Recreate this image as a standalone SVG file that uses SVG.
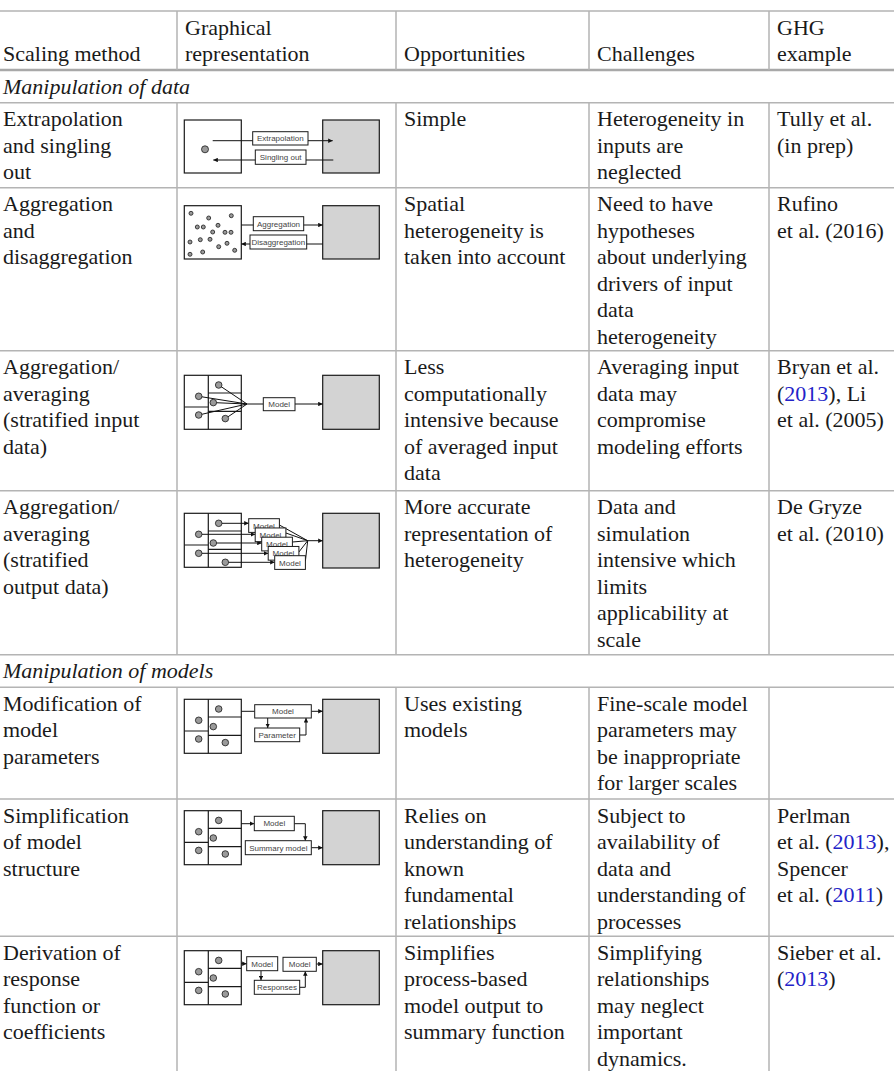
<svg xmlns="http://www.w3.org/2000/svg" xmlns:xlink="http://www.w3.org/1999/xlink" width="894" height="1071" viewBox="0 0 894 1071">
<style>
.t{font-family:"Liberation Serif","Times New Roman",serif;font-size:22px;fill:#1a1a1a}
.i{font-style:italic}
.lk{fill:#2323c8}
.g{stroke:#b4b4b4;stroke-width:1.5;fill:none}
.bx{fill:none;stroke:#1a1a1a;stroke-width:1.2}
.gy{fill:#d3d3d3;stroke:#1a1a1a;stroke-width:1.2}
.lb{fill:#fff;stroke:#1a1a1a;stroke-width:1}
.lt{font-family:"Liberation Sans",Arial,sans-serif;font-size:8px;fill:#444;text-anchor:middle}
.dt{fill:#9a9a9a;stroke:#1a1a1a;stroke-width:0.8}
.ln{stroke:#111;stroke-width:1;fill:none}
.ar{marker-end:url(#ah)}
</style>
<defs>
<marker id="ah" viewBox="0 0 6 6" refX="6" refY="3" markerWidth="4.5" markerHeight="4.5" markerUnits="userSpaceOnUse" orient="auto"><path d="M0,0L6,3L0,6z" fill="#111"/></marker>
<g id="grid"><rect class="bx" x="0" y="0" width="57" height="54"/><path class="bx" d="M24,0V54M0,31.7H24M24,17.7H57M24,36H57"/></g>
<g id="dots"><circle class="dt" cx="34.4" cy="9.7" r="3.3"/><circle class="dt" cx="14.4" cy="21" r="3.3"/><circle class="dt" cx="29" cy="27.3" r="3.3"/><circle class="dt" cx="14.4" cy="39.7" r="3.3"/><circle class="dt" cx="41" cy="43.3" r="3.3"/></g>
</defs>
<rect width="894" height="1071" fill="#fff"/>

<g id="table-grid">
<path class="g" d="M0,11H894M0,102.7H894M0,187.7H894M0,350.7H894M0,490.7H894M0,654.7H894M0,687.3H894M0,799H894M0,936.3H894"/>
<path d="M0,70H894" stroke="#a8a8a8" stroke-width="2.6" fill="none"/>
<path class="g" d="M177,11V70M396,11V70M589,11V70M769,11V70M177,102.7V654.7M396,102.7V654.7M589,102.7V654.7M769,102.7V654.7M177,687.3V1071M396,687.3V1071M589,687.3V1071M769,687.3V1071"/>
</g>

<g id="header" class="t">
<text x="3" y="61">Scaling method</text>
<text x="185" y="34.5">Graphical</text><text x="185" y="61">representation</text>
<text x="404" y="61">Opportunities</text>
<text x="597" y="61">Challenges</text>
<text x="777" y="34.5">GHG</text><text x="777" y="61">example</text>
</g>
<g id="section-data"><text class="t i" x="3" y="94">Manipulation of data</text></g>
<g id="section-models"><text class="t i" x="3" y="678">Manipulation of models</text></g>

<!-- frames -->
<g id="frames">
<rect class="bx" x="184.3" y="120" width="57" height="53"/>
<rect class="gy" x="322.7" y="120" width="56.6" height="53"/>
<rect class="bx" x="184.3" y="205.7" width="57" height="53.3"/>
<rect class="gy" x="322.7" y="205.7" width="56.6" height="53.3"/>
<use xlink:href="#grid" x="184.3" y="375.3"/>
<rect class="gy" x="322.7" y="375.3" width="56.6" height="54"/>
<use xlink:href="#grid" x="184.3" y="513.3"/>
<rect class="gy" x="322.7" y="513.3" width="56.6" height="54.7"/>
<use xlink:href="#grid" x="184.3" y="699.3"/>
<rect class="gy" x="322.7" y="699.3" width="56.6" height="54"/>
<use xlink:href="#grid" x="184.3" y="810.7"/>
<rect class="gy" x="322.7" y="810.7" width="56.6" height="54"/>
<use xlink:href="#grid" x="184.3" y="950.7"/>
<rect class="gy" x="322.7" y="950.7" width="56.6" height="54"/>
</g>

<g id="connectors">
<!-- row 1 -->
<path class="ln ar" d="M212.7,140.7H332.7"/>
<path class="ln ar" d="M333.3,160H213.3"/>
<!-- row 2 -->
<path class="ln ar" d="M241.3,225H322.7"/>
<path class="ln ar" d="M322.7,244H241.3"/>
<!-- row 3 -->
<path class="ln" d="M218.7,385L247,404M198.7,396.3L247,404M213.3,402.6L247,404M198.7,415L247,404M225.3,418.6L247,404M247,404H263.3"/>
<path class="ln ar" d="M295,404H322.7"/>
<!-- row 4 -->
<path class="ln ar" d="M218.7,523.3H248.7"/>
<path class="ln ar" d="M198.7,534.3H255.2"/>
<path class="ln ar" d="M213.3,543H261.7"/>
<path class="ln ar" d="M198.7,553.3H268.2"/>
<path class="ln ar" d="M225.3,562.3H274.7"/>
<path class="ln" d="M279.4,525L307.7,540.7M285.9,533L307.7,540.7M292.4,542L307.7,540.7M298.9,552L307.7,540.7M305.4,561L307.7,540.7"/>
<path class="ln ar" d="M307.7,540.7H322.7"/>
<!-- row 5 -->
<path class="ln" d="M241.3,711.3H254.7"/>
<path class="ln ar" d="M311.3,711.3H322.7"/>
<path class="ln ar" d="M267.7,718V728"/>
<path class="ln ar" d="M299.7,735H306V718"/>
<!-- row 6 -->
<path class="ln ar" d="M241.3,823.7H254.3"/>
<path class="ln ar" d="M294.3,823.7H305.3V840.7"/>
<path class="ln ar" d="M311.3,847.7H322.7"/>
<!-- row 7 -->
<path class="ln ar" d="M241.3,963.7H246.7"/>
<path class="ln ar" d="M261,970.7V980.3"/>
<path class="ln ar" d="M299.7,987.3H305.3V971.3"/>
<path class="ln ar" d="M316.3,964H322.7"/>
</g>

<g id="row1">
<circle class="dt" cx="205" cy="149.3" r="3.5"/>
<rect class="lb" x="252.7" y="131.7" width="55.3" height="13.3"/><text class="lt" x="280.3" y="141.3">Extrapolation</text>
<rect class="lb" x="255.3" y="150" width="50.7" height="14.3"/><text class="lt" x="280.7" y="160">Singling out</text>
<g class="t"><text x="3" y="126.2">Extrapolation</text><text x="3" y="152.7">and singling</text><text x="3" y="179.2">out</text>
<text x="404" y="126.2">Simple</text>
<text x="597" y="126.2">Heterogeneity in</text><text x="597" y="152.7">inputs are</text><text x="597" y="179.2">neglected</text>
<text x="777" y="126.2">Tully et al.</text><text x="777" y="152.7">(in prep)</text></g>
</g>

<g id="row2">
<g class="dt">
<circle cx="191" cy="213.3" r="2"/><circle cx="208.7" cy="218" r="2"/><circle cx="231.3" cy="215.7" r="2"/>
<circle cx="197.3" cy="227" r="2"/><circle cx="203.3" cy="227" r="2"/><circle cx="218" cy="225.3" r="2"/>
<circle cx="212.7" cy="232" r="2"/><circle cx="225" cy="232.3" r="2"/><circle cx="231" cy="232.3" r="2"/>
<circle cx="190" cy="242" r="2"/><circle cx="200.3" cy="239.7" r="2"/><circle cx="210" cy="239.3" r="2"/>
<circle cx="227" cy="243.3" r="2"/><circle cx="218.7" cy="246.7" r="2"/>
<circle cx="190" cy="254.3" r="2"/><circle cx="202.7" cy="252" r="2"/><circle cx="234.7" cy="250.3" r="2"/>
</g>
<rect class="lb" x="253.3" y="216.7" width="50.4" height="14"/><text class="lt" x="278.5" y="226.7">Aggregation</text>
<rect class="lb" x="250" y="235" width="56.7" height="14"/><text class="lt" x="278.3" y="245">Disaggregation</text>
<g class="t"><text x="3" y="211.2">Aggregation</text><text x="3" y="237.7">and</text><text x="3" y="264.2">disaggregation</text>
<text x="404" y="211.2">Spatial</text><text x="404" y="237.7">heterogeneity is</text><text x="404" y="264.2">taken into account</text>
<text x="597" y="211.2">Need to have</text><text x="597" y="237.7">hypotheses</text><text x="597" y="264.2">about underlying</text><text x="597" y="290.7">drivers of input</text><text x="597" y="317.2">data</text><text x="597" y="343.7">heterogeneity</text>
<text x="777" y="211.2">Rufino</text><text x="777" y="237.7">et al. (2016)</text></g>
</g>

<g id="row3">
<use xlink:href="#dots" x="184.3" y="375.3"/>
<rect class="lb" x="263.3" y="397.7" width="31.7" height="13"/><text class="lt" x="279.2" y="407">Model</text>
<g class="t"><text x="3" y="374.2">Aggregation/</text><text x="3" y="400.7">averaging</text><text x="3" y="427.2">(stratified input</text><text x="3" y="453.7">data)</text>
<text x="404" y="374.2">Less</text><text x="404" y="400.7">computationally</text><text x="404" y="427.2">intensive because</text><text x="404" y="453.7">of averaged input</text><text x="404" y="480.2">data</text>
<text x="597" y="374.2">Averaging input</text><text x="597" y="400.7">data may</text><text x="597" y="427.2">compromise</text><text x="597" y="453.7">modeling efforts</text>
<text x="777" y="374.2">Bryan et al.</text><text x="777" y="400.7">(<tspan class="lk">2013</tspan>), Li</text><text x="777" y="427.2">et al. (2005)</text></g>
</g>

<g id="row4">
<g class="dt"><circle cx="218.7" cy="523.3" r="3.3"/><circle cx="198.7" cy="534.3" r="3.3"/><circle cx="213.3" cy="543" r="3.3"/><circle cx="198.7" cy="553.3" r="3.3"/><circle cx="225.3" cy="562.3" r="3.3"/></g>
<rect class="lb" x="248.7" y="518.7" width="30.7" height="13.7"/><text class="lt" x="264" y="528.5">Model</text>
<rect class="lb" x="255.2" y="527.95" width="30.7" height="13.7"/><text class="lt" x="270.5" y="537.7">Model</text>
<rect class="lb" x="261.7" y="537.2" width="30.7" height="13.7"/><text class="lt" x="277" y="547">Model</text>
<rect class="lb" x="268.2" y="546.45" width="30.7" height="13.7"/><text class="lt" x="283.5" y="556.2">Model</text>
<rect class="lb" x="274.7" y="555.7" width="30.7" height="13.7"/><text class="lt" x="290" y="565.5">Model</text>
<g class="t"><text x="3" y="514.2">Aggregation/</text><text x="3" y="540.7">averaging</text><text x="3" y="567.2">(stratified</text><text x="3" y="593.7">output data)</text>
<text x="404" y="514.2">More accurate</text><text x="404" y="540.7">representation of</text><text x="404" y="567.2">heterogeneity</text>
<text x="597" y="514.2">Data and</text><text x="597" y="540.7">simulation</text><text x="597" y="567.2">intensive which</text><text x="597" y="593.7">limits</text><text x="597" y="620.2">applicability at</text><text x="597" y="646.7">scale</text>
<text x="777" y="514.2">De Gryze</text><text x="777" y="540.7">et al. (2010)</text></g>
</g>

<g id="row5">
<use xlink:href="#dots" x="184.3" y="699.3"/>
<rect class="lb" x="254.7" y="704.7" width="56.6" height="13.3"/><text class="lt" x="283" y="714.2">Model</text>
<rect class="lb" x="254.7" y="728" width="45" height="13.7"/><text class="lt" x="277.2" y="737.8">Parameter</text>
<g class="t"><text x="3" y="710.8">Modification of</text><text x="3" y="737.3">model</text><text x="3" y="763.8">parameters</text>
<text x="404" y="710.8">Uses existing</text><text x="404" y="737.3">models</text>
<text x="597" y="710.8">Fine-scale model</text><text x="597" y="737.3">parameters may</text><text x="597" y="763.8">be inappropriate</text><text x="597" y="790.3">for larger scales</text></g>
</g>

<g id="row6">
<use xlink:href="#dots" x="184.3" y="810.7"/>
<rect class="lb" x="254.3" y="816.3" width="40" height="14.4"/><text class="lt" x="274.3" y="826.3">Model</text>
<rect class="lb" x="245.3" y="840.7" width="66" height="14"/><text class="lt" x="278.3" y="850.5">Summary model</text>
<g class="t"><text x="3" y="822.5">Simplification</text><text x="3" y="849">of model</text><text x="3" y="875.5">structure</text>
<text x="404" y="822.5">Relies on</text><text x="404" y="849">understanding of</text><text x="404" y="875.5">known</text><text x="404" y="902">fundamental</text><text x="404" y="928.5">relationships</text>
<text x="597" y="822.5">Subject to</text><text x="597" y="849">availability of</text><text x="597" y="875.5">data and</text><text x="597" y="902">understanding of</text><text x="597" y="928.5">processes</text>
<text x="777" y="822.5">Perlman</text><text x="777" y="849">et al. (<tspan class="lk">2013</tspan>),</text><text x="777" y="875.5">Spencer</text><text x="777" y="902">et al. (<tspan class="lk">2011</tspan>)</text></g>
</g>

<g id="row7">
<use xlink:href="#dots" x="184.3" y="950.7"/>
<rect class="lb" x="246.7" y="956.7" width="31" height="14"/><text class="lt" x="262.2" y="966.5">Model</text>
<rect class="lb" x="283" y="957.3" width="33.3" height="14"/><text class="lt" x="299.7" y="967.1">Model</text>
<rect class="lb" x="254.3" y="980.3" width="45.4" height="14"/><text class="lt" x="277" y="990.1">Responses</text>
<g class="t"><text x="3" y="959.8">Derivation of</text><text x="3" y="986.3">response</text><text x="3" y="1012.8">function or</text><text x="3" y="1039.3">coefficients</text>
<text x="404" y="959.8">Simplifies</text><text x="404" y="986.3">process-based</text><text x="404" y="1012.8">model output to</text><text x="404" y="1039.3">summary function</text>
<text x="597" y="959.8">Simplifying</text><text x="597" y="986.3">relationships</text><text x="597" y="1012.8">may neglect</text><text x="597" y="1039.3">important</text><text x="597" y="1065.8">dynamics.</text>
<text x="777" y="959.8">Sieber et al.</text><text x="777" y="986.3">(<tspan class="lk">2013</tspan>)</text></g>
</g>
</svg>
